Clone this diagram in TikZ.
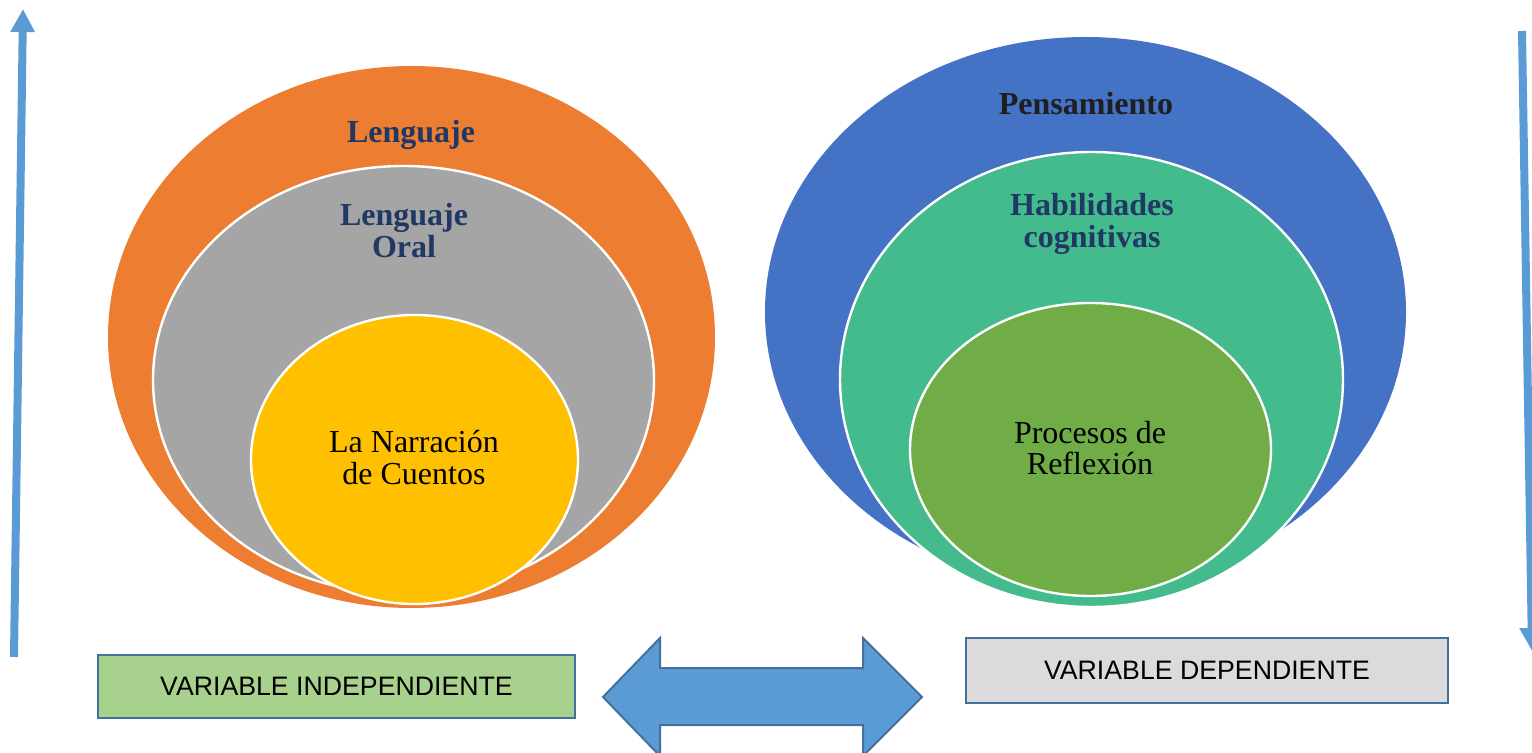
\documentclass[tikz,border=0pt]{standalone}
\usepackage{fontspec}
\setmainfont{Liberation Serif}
\newfontfamily\boxfont{Liberation Sans}
\usetikzlibrary{shapes,arrows.meta}
\definecolor{lorange}{HTML}{ED7D31}
\definecolor{lgray}{HTML}{A5A5A5}
\definecolor{lyellow}{HTML}{FFC000}
\definecolor{pblue}{HTML}{4472C4}
\definecolor{pgreen}{HTML}{44BB8C}
\definecolor{polive}{HTML}{70AD47}
\definecolor{navy}{HTML}{1F3864}
\definecolor{arrowblue}{HTML}{5B9BD5}
\definecolor{rimblue}{HTML}{41719C}
\definecolor{boxgreen}{HTML}{A9D18E}
\definecolor{boxgray}{HTML}{DBDBDB}

\begin{document}
\begin{tikzpicture}[x=0.5pt,y=-0.5pt]
   \useasboundingbox (0,0) rectangle (1532,753);
   \clip (0,0) rectangle (1532,753);
   \tikzstyle{blob}=[ellipse, inner sep=0pt, outer sep=0pt]
   \tikzstyle{rim}=[blob, draw=white, line width=1.2pt]
   \tikzstyle{title}=[font=\fontsize{16}{16}\selectfont\bfseries, text=navy, align=center, anchor=base, inner sep=0pt]
   \tikzstyle{inner}=[font=\fontsize{16}{16}\selectfont, align=center, anchor=base, inner sep=0pt]
   \tikzstyle{varbox}=[draw=rimblue, line width=1pt, font=\boxfont\fontsize{13.35}{15}\selectfont]
   \tikzstyle{updown}=[draw=arrowblue, line width=4pt, -{Triangle[width=11.5pt,length=11.5pt]}]
   % left circles
   \node[blob, fill=lorange, minimum width=303.5pt, minimum height=271pt] (lenguaje) at (411.5,337) {};
   \node[rim, fill=lgray, minimum width=250.5pt, minimum height=214pt] (oral) at (403.5,380) {};
   \node[rim, fill=lyellow, minimum width=163.5pt, minimum height=144.5pt] (narracion) at (414.5,459.5) {};
   \node[title] (t1) at (411,143) {Lenguaje};
   \node[title] (t2) at (404,258) {Lenguaje\\Oral};
   \node[inner] (t3) at (414,485) {La Narración\\de Cuentos};
   % right circles
   \node[blob, fill=pblue, minimum width=320.5pt, minimum height=275pt] (pensamiento) at (1085.5,312) {};
   \node[rim, fill=pgreen, minimum width=251.5pt, minimum height=227.5pt] (habilidades) at (1091.5,379.5) {};
   \node[rim, fill=polive, minimum width=180.5pt, minimum height=146.5pt] (procesos) at (1090.5,449.5) {};
   \node[title, text=black!88] (t4) at (1086,115) {Pensamiento};
   \node[title] (t5) at (1092,248) {Habilidades\\cognitivas};
   \node[inner] (t6) at (1090,475) {Procesos de\\Reflexión};
   % variables
   \node[varbox, fill=boxgreen, minimum width=238.5pt, minimum height=31.5pt] (indep) at (336.5,686.5) {VARIABLE INDEPENDIENTE};
   \node[varbox, fill=boxgray, minimum width=241pt, minimum height=32.5pt] (dep) at (1207,670.5) {VARIABLE DEPENDIENTE};
   \draw[fill=arrowblue, draw=rimblue, line width=1pt] (603,697) -- (660,638) -- (660,668) -- (863,668) -- (863,638)
      -- (922,697) -- (863,756) -- (863,725) -- (660,725) -- (660,756) -- cycle;
   % side arrows
   \coordinate (upfoot) at (14,657);
   \coordinate (uptip) at (23,9);
   \coordinate (downtop) at (1522,31);
   \coordinate (downtip) at (1532,651);
   \draw[updown] (upfoot) -- (uptip);
   \draw[updown] (downtop) -- (downtip);
\end{tikzpicture}
\end{document}
